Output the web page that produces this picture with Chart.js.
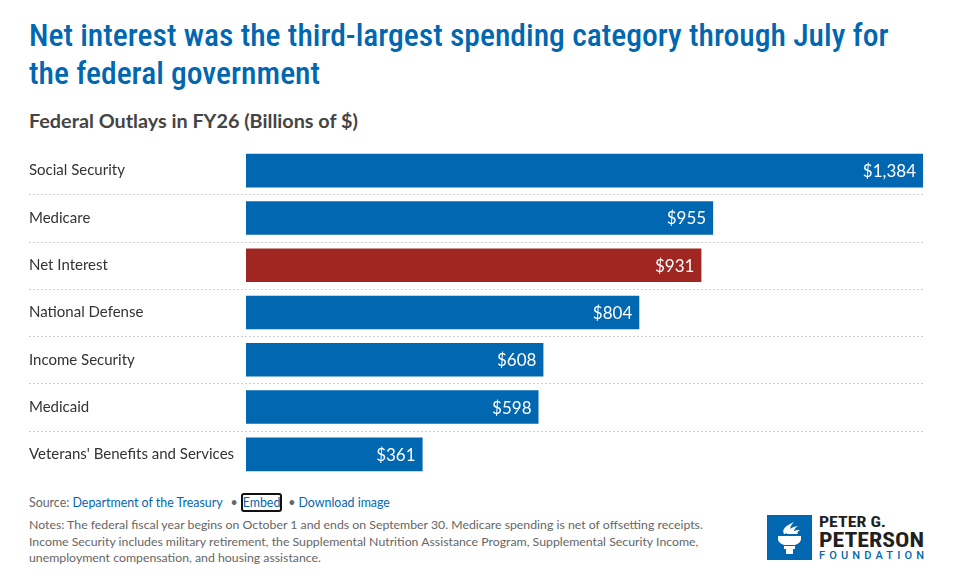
<!DOCTYPE html>
<html>
<head>
<meta charset="utf-8">
<script src="https://cdn.jsdelivr.net/npm/chart.js@4.4.1/dist/chart.umd.min.js"></script>
<style>
  html, body { margin:0; padding:0; background:#fff; }
  body { width:972px; height:586px; position:relative; overflow:hidden; font-family: Lato, "Open Sans", sans-serif; }
  #title { position:absolute; left:29px; top:17px; margin:0; color:#0067B0; font-family:"Roboto Condensed","Liberation Sans Narrow","DejaVu Sans Condensed",Roboto,sans-serif; font-stretch:condensed; font-weight:500; font-size:31.6px; line-height:38px; white-space:nowrap; }
  #subtitle { position:absolute; left:29px; top:108px; margin:0; color:#444; font-size:19.8px; font-weight:700; white-space:nowrap; }
  #wrap { position:absolute; left:0; top:147px; width:972px; height:331px; }
  #source { position:absolute; left:29px; top:495px; font-size:12.4px; color:#666; white-space:nowrap; }
  #source a { color:#0067B0; text-decoration:none; }
  #source .dot { color:#666; margin:0 3px 0 8px; }
  #source .dot2 { color:#666; margin:0 3px 0 6px; }
  #source .embed { border:2px solid #111; border-radius:3px; padding:0; }
  #notes { position:absolute; left:29px; top:517px; font-size:12.3px; line-height:16.5px; color:#666; white-space:nowrap; }
  #logo { position:absolute; left:767px; top:515px; width:160px; height:46px; }
</style>
</head>
<body>
<h1 id="title">Net interest was the third-largest spending category through July for<br>the federal government</h1>
<h2 id="subtitle">Federal Outlays in FY26 (Billions of $)</h2>
<div id="wrap"><canvas id="c"></canvas></div>
<div id="source">Source: <a>Department of the Treasury</a><span class="dot">•</span><a class="embed">Embed</a><span class="dot2">•</span><a>Download image</a></div>
<div id="notes">Notes: The federal fiscal year begins on October 1 and ends on September 30. Medicare spending is net of offsetting receipts.<br>Income Security includes military retirement, the Supplemental Nutrition Assistance Program, Supplemental Security Income,<br>unemployment compensation, and housing assistance.</div>
<svg id="logo" viewBox="0 0 160 46" xmlns="http://www.w3.org/2000/svg">
  <rect x="0" y="0" width="45" height="45" fill="#0067B0"/>
  <g fill="#fff">
    <path d="M17 19 C14 14 20 10 27 7 C23 11 22 14 25 17 Z"/>
    <path d="M20 19 C19 15 25 12 31 11 C27 14 26 16 28 19 Z"/>
    <path d="M24 19 C24 17 28 15 33 15 C30 17 30 18 31 19 Z"/>
    <path d="M11 21 H34 V24 C34 27 31 29 28 30 H17 C14 29 11 27 11 24 Z"/>
    <rect x="17" y="31" width="11" height="3"/>
    <rect x="19" y="34" width="7" height="5"/>
  </g>
  <text x="52" y="12" font-family="'Roboto Condensed','Liberation Sans Narrow',Roboto,sans-serif" font-weight="700" font-size="15" fill="#231F20" textLength="67" lengthAdjust="spacingAndGlyphs">PETER G.</text>
  <text x="52" y="32" font-family="'Roboto Condensed','Liberation Sans Narrow',Roboto,sans-serif" font-weight="700" font-size="21" fill="#231F20" textLength="105" lengthAdjust="spacingAndGlyphs">PETERSON</text>
  <text x="52" y="44" font-family="Roboto,sans-serif" font-weight="500" font-size="11" fill="#0067B0" textLength="105" lengthAdjust="spacing">FOUNDATION</text>
</svg>
<script>
const categories = ["Social Security", "Medicare", "Net Interest", "National Defense", "Income Security", "Medicaid", "Veterans' Benefits and Services"];
const outlays = [1384, 955, 931, 804, 608, 598, 361];
const highlightCategory = "Net Interest";

const BLUE = "#0067B0";
const RED = "#A02622";
const barColors = categories.map(c => c === highlightCategory ? RED : BLUE);

const separators = {
  id: "separators",
  beforeDatasetsDraw(chart) {
    const y = chart.scales.y;
    const ctx = chart.ctx;
    ctx.save();
    ctx.strokeStyle = "#cfcfcf";
    ctx.lineWidth = 1;
    ctx.setLineDash([2, 2]);
    for (let i = 0; i < categories.length - 1; i++) {
      const yy = Math.round((y.getPixelForTick(i) + y.getPixelForTick(i + 1)) / 2) + 0.5;
      ctx.beginPath();
      ctx.moveTo(y.left, yy);
      ctx.lineTo(chart.chartArea.right, yy);
      ctx.stroke();
    }
    ctx.restore();
  }
};

const valueLabels = {
  id: "valueLabels",
  afterDatasetsDraw(chart) {
    const ctx = chart.ctx;
    const meta = chart.getDatasetMeta(0);
    ctx.save();
    ctx.fillStyle = "#fff";
    ctx.font = "17px Lato";
    ctx.textAlign = "right";
    ctx.textBaseline = "middle";
    meta.data.forEach((bar, i) => {
      ctx.fillText("$" + outlays[i].toLocaleString("en-US"), bar.x - 7, bar.y + 1);
    });
    ctx.restore();
  }
};

new Chart(document.getElementById("c"), {
  type: "bar",
  data: {
    labels: categories,
    datasets: [{
      data: outlays,
      backgroundColor: barColors,
      borderWidth: 0,
      categoryPercentage: 1,
      barPercentage: 0.71
    }]
  },
  options: {
    indexAxis: "y",
    responsive: true,
    maintainAspectRatio: false,
    animation: false,
    layout: { padding: { left: 29, right: 49, top: 0, bottom: 0 } },
    plugins: { legend: { display: false }, tooltip: { enabled: false } },
    scales: {
      x: { display: false, min: 0, max: 1384 },
      y: {
        grid: { display: false },
        border: { display: false },
        afterFit(scale) { scale.width = 217; scale.paddingTop = 0; scale.paddingBottom = 0; },
        ticks: {
          crossAlign: "far",
          padding: 0,
          color: "#333",
          font: { family: "Lato", size: 15, lineHeight: 1.0 }
        }
      }
    }
  },
  plugins: [separators, valueLabels]
});
</script>
</body>
</html>
